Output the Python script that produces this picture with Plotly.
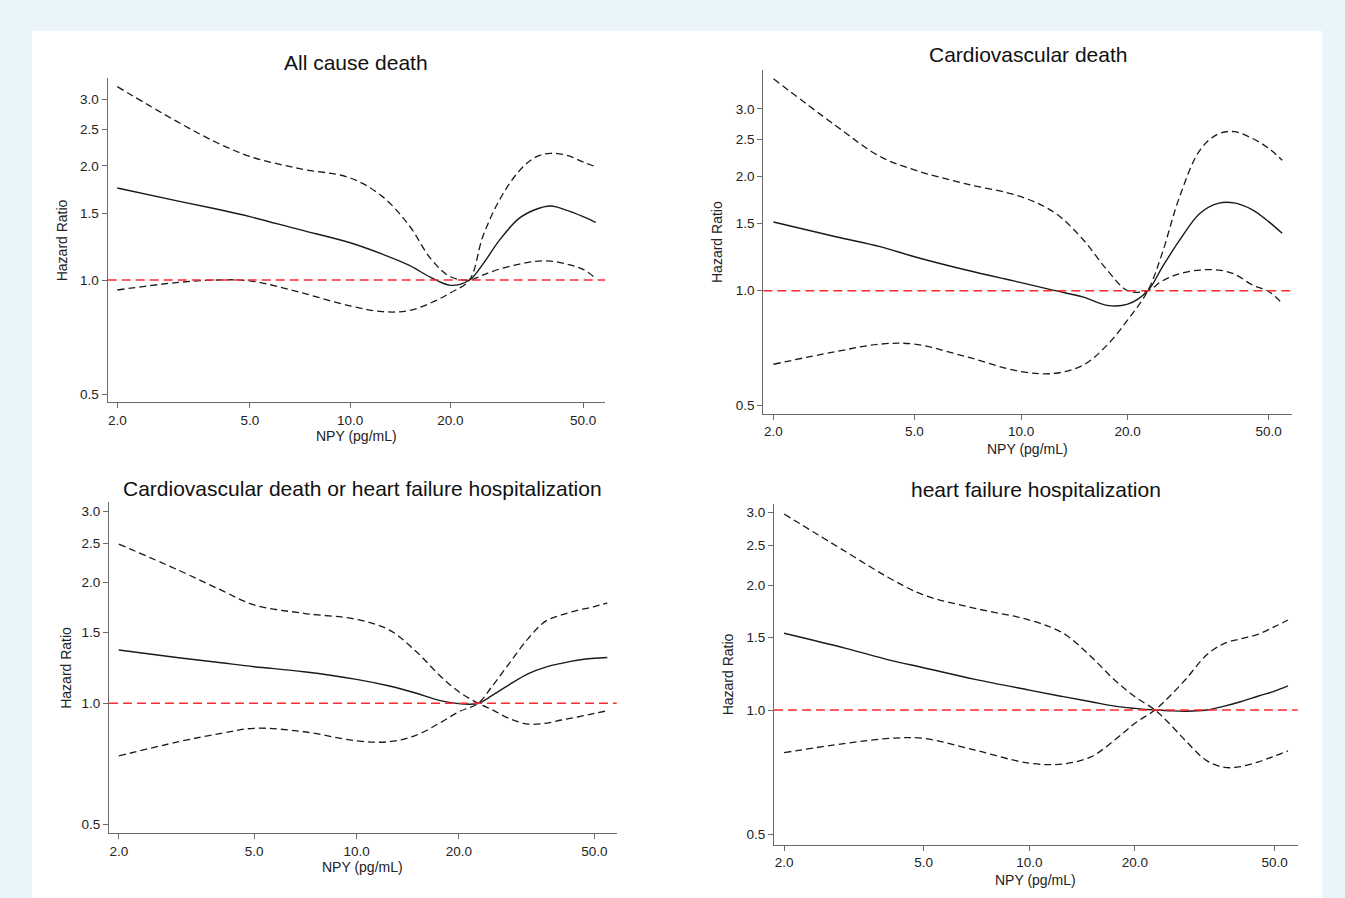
import math
import plotly.graph_objects as go

W, H = 1345, 898

# ---------------- data ----------------
npy = [2, 3, 4, 5, 7, 10, 12.5, 15, 17.5, 20, 22.8, 25, 28, 32, 36, 40, 45, 50, 54.6]

titles = ["All cause death", "Cardiovascular death",
          "Cardiovascular death or heart failure hospitalization",
          "heart failure hospitalization"]

# panel 1: all cause death
hr_1 = [1.75, 1.62, 1.537, 1.47, 1.36, 1.254, 1.17, 1.095, 1.015, 0.968, 1.0,
        1.10, 1.27, 1.45, 1.535, 1.568, 1.524, 1.47, 1.42]
ci_a_1 = [3.24, 2.63, 2.30, 2.12, 1.97, 1.86, 1.66, 1.397, 1.135, 1.02, 1.0,
          1.03, 1.068, 1.10, 1.12, 1.122, 1.10, 1.067, 1.01]
ci_b_1 = [0.941, 0.984, 1.0, 0.995, 0.93, 0.854, 0.825, 0.83, 0.871, 0.925, 1.0,
          1.30, 1.62, 1.93, 2.11, 2.16, 2.13, 2.05, 1.99]

# panel 2: cardiovascular death
hr_2 = [1.515, 1.386, 1.305, 1.228, 1.133, 1.05, 1.0, 0.962, 0.915, 0.922, 1.0,
        1.15, 1.355, 1.597, 1.696, 1.70, 1.63, 1.518, 1.415]
ci_a_2 = [3.60, 2.71, 2.25, 2.075, 1.907, 1.765, 1.597, 1.359, 1.133, 1.0, 1.0,
          1.06, 1.108, 1.133, 1.133, 1.106, 1.035, 0.995, 0.927]
ci_b_2 = [0.641, 0.692, 0.724, 0.724, 0.671, 0.613, 0.607, 0.638, 0.72, 0.838, 1.0,
          1.25, 1.76, 2.34, 2.58, 2.615, 2.51, 2.365, 2.20]

# panel 3: CV death or HF hospitalization
hr_3 = [1.356, 1.298, 1.261, 1.233, 1.198, 1.147, 1.104, 1.059, 1.017, 0.998, 1.0,
        1.045, 1.11, 1.185, 1.23, 1.257, 1.281, 1.294, 1.30]
ci_a_3 = [2.486, 2.14, 1.91, 1.755, 1.673, 1.616, 1.52, 1.343, 1.176, 1.068, 1.0,
          0.965, 0.918, 0.888, 0.892, 0.909, 0.926, 0.944, 0.958]
ci_b_3 = [0.740, 0.803, 0.842, 0.867, 0.85, 0.807, 0.803, 0.834, 0.892, 0.953, 1.0,
          1.10, 1.25, 1.45, 1.60, 1.657, 1.705, 1.738, 1.777]

# panel 4: heart failure hospitalization
hr_4 = [1.532, 1.409, 1.32, 1.265, 1.186, 1.117, 1.077, 1.047, 1.022, 1.009, 1.0,
        0.996, 0.993, 1.0, 1.022, 1.047, 1.081, 1.111, 1.143]
ci_a_4 = [2.973, 2.41, 2.08, 1.895, 1.76, 1.649, 1.532, 1.345, 1.181, 1.077, 1.0,
          0.93, 0.84, 0.755, 0.727, 0.73, 0.75, 0.774, 0.797]
ci_b_4 = [0.789, 0.831, 0.854, 0.854, 0.80, 0.744, 0.741, 0.771, 0.846, 0.929, 1.0,
          1.075, 1.19, 1.358, 1.449, 1.485, 1.525, 1.589, 1.649]

x_ticks = [2, 5, 10, 20, 50]
x_ticklabels = ["2.0", "5.0", "10.0", "20.0", "50.0"]
y_ticks = [0.5, 1.0, 1.5, 2.0, 2.5, 3.0]
y_ticklabels = ["0.5", "1.0", "1.5", "2.0", "2.5", "3.0"]
x_lim = [1.872, 58.2]
y_lims = [[0.4755, 3.408], [0.4745, 3.797], [0.4756, 3.156], [0.473, 3.143]]

# ---------------- layout geometry (pixels) ----------------
# (left, right, top, bottom) of each plot area
boxes = [(107.7, 605.0, 78.3, 402.3),
         (763.3, 1292.0, 70.0, 414.0),
         (109.0, 616.7, 502.3, 833.3),
         (774.0, 1297.7, 504.0, 844.7)]
title_y = [63, 54, 488, 489]
ylab_x = [62, 717, 66, 728]
xlab_y = [436, 449, 867, 880]

def px(x):
    return x / W

def py(y):
    return 1 - y / H

FONT = "Liberation Sans, Arial, Helvetica, sans-serif"
fig = go.Figure()

series = [(hr_1, ci_a_1, ci_b_1), (hr_2, ci_a_2, ci_b_2),
          (hr_3, ci_a_3, ci_b_3), (hr_4, ci_a_4, ci_b_4)]

layout_axes = {}
annotations = []
shapes = [dict(type="rect", xref="paper", yref="paper",
               x0=px(32), x1=px(1322.5), y0=0, y1=py(31),
               fillcolor="white", line=dict(width=0), layer="below")]

for i, (hr, ca, cb) in enumerate(series):
    n = i + 1
    xa = "x" if n == 1 else f"x{n}"
    ya = "y" if n == 1 else f"y{n}"
    l, r, t, b = boxes[i]
    for vals, dash, width in [(ca, "7px,4px", 1.3), (cb, "7px,4px", 1.3), (hr, "solid", 1.4)]:
        fig.add_trace(go.Scatter(
            x=npy, y=vals, mode="lines", xaxis=xa, yaxis=ya,
            line=dict(color="#1a1a1a", width=width, dash=dash, shape="spline", smoothing=1.0),
            showlegend=False, hoverinfo="skip"))
    axis_common = dict(type="log", showgrid=False, zeroline=False, showline=True,
                       linecolor="#6a6a6a", linewidth=1.2, ticks="outside", ticklen=5,
                       tickwidth=1, tickcolor="#6a6a6a",
                       tickfont=dict(family=FONT, size=13.5, color="#222"))
    layout_axes[f"xaxis{'' if n == 1 else n}"] = dict(
        axis_common, domain=[px(l), px(r)], anchor=ya,
        range=[math.log10(x_lim[0]), math.log10(x_lim[1])],
        tickvals=x_ticks, ticktext=x_ticklabels)
    layout_axes[f"yaxis{'' if n == 1 else n}"] = dict(
        axis_common, domain=[py(b), py(t)], anchor=xa,
        range=[math.log10(y_lims[i][0]), math.log10(y_lims[i][1])],
        tickvals=y_ticks, ticktext=y_ticklabels)
    shapes.append(dict(type="line", xref=f"{xa} domain", yref=ya, x0=0, x1=1, y0=1, y1=1,
                       line=dict(color="#ff2a2a", width=1.5, dash="9px,5px"), layer="above"))
    cx = (l + r) / 2
    annotations.append(dict(text=titles[i], xref="paper", yref="paper", x=px(cx), y=py(title_y[i]),
                            xanchor="center", yanchor="middle", showarrow=False,
                            font=dict(family=FONT, size=21, color="#111")))
    annotations.append(dict(text="Hazard Ratio", xref="paper", yref="paper", x=px(ylab_x[i]),
                            y=py((t + b) / 2), xanchor="center", yanchor="middle", textangle=-90,
                            showarrow=False, font=dict(family=FONT, size=14, color="#222")))
    annotations.append(dict(text="NPY (pg/mL)", xref="paper", yref="paper", x=px(cx),
                            y=py(xlab_y[i]), xanchor="center", yanchor="middle",
                            showarrow=False, font=dict(family=FONT, size=14, color="#222")))

fig.update_layout(width=W, height=H, margin=dict(l=0, r=0, t=0, b=0),
                  paper_bgcolor="#e9f5f8", plot_bgcolor="rgba(0,0,0,0)",
                  shapes=shapes, annotations=annotations, **layout_axes)
fig.write_html("out.html", config={"displayModeBar": False},
               post_script="document.body.style.margin='0';document.body.style.overflow='hidden';")
